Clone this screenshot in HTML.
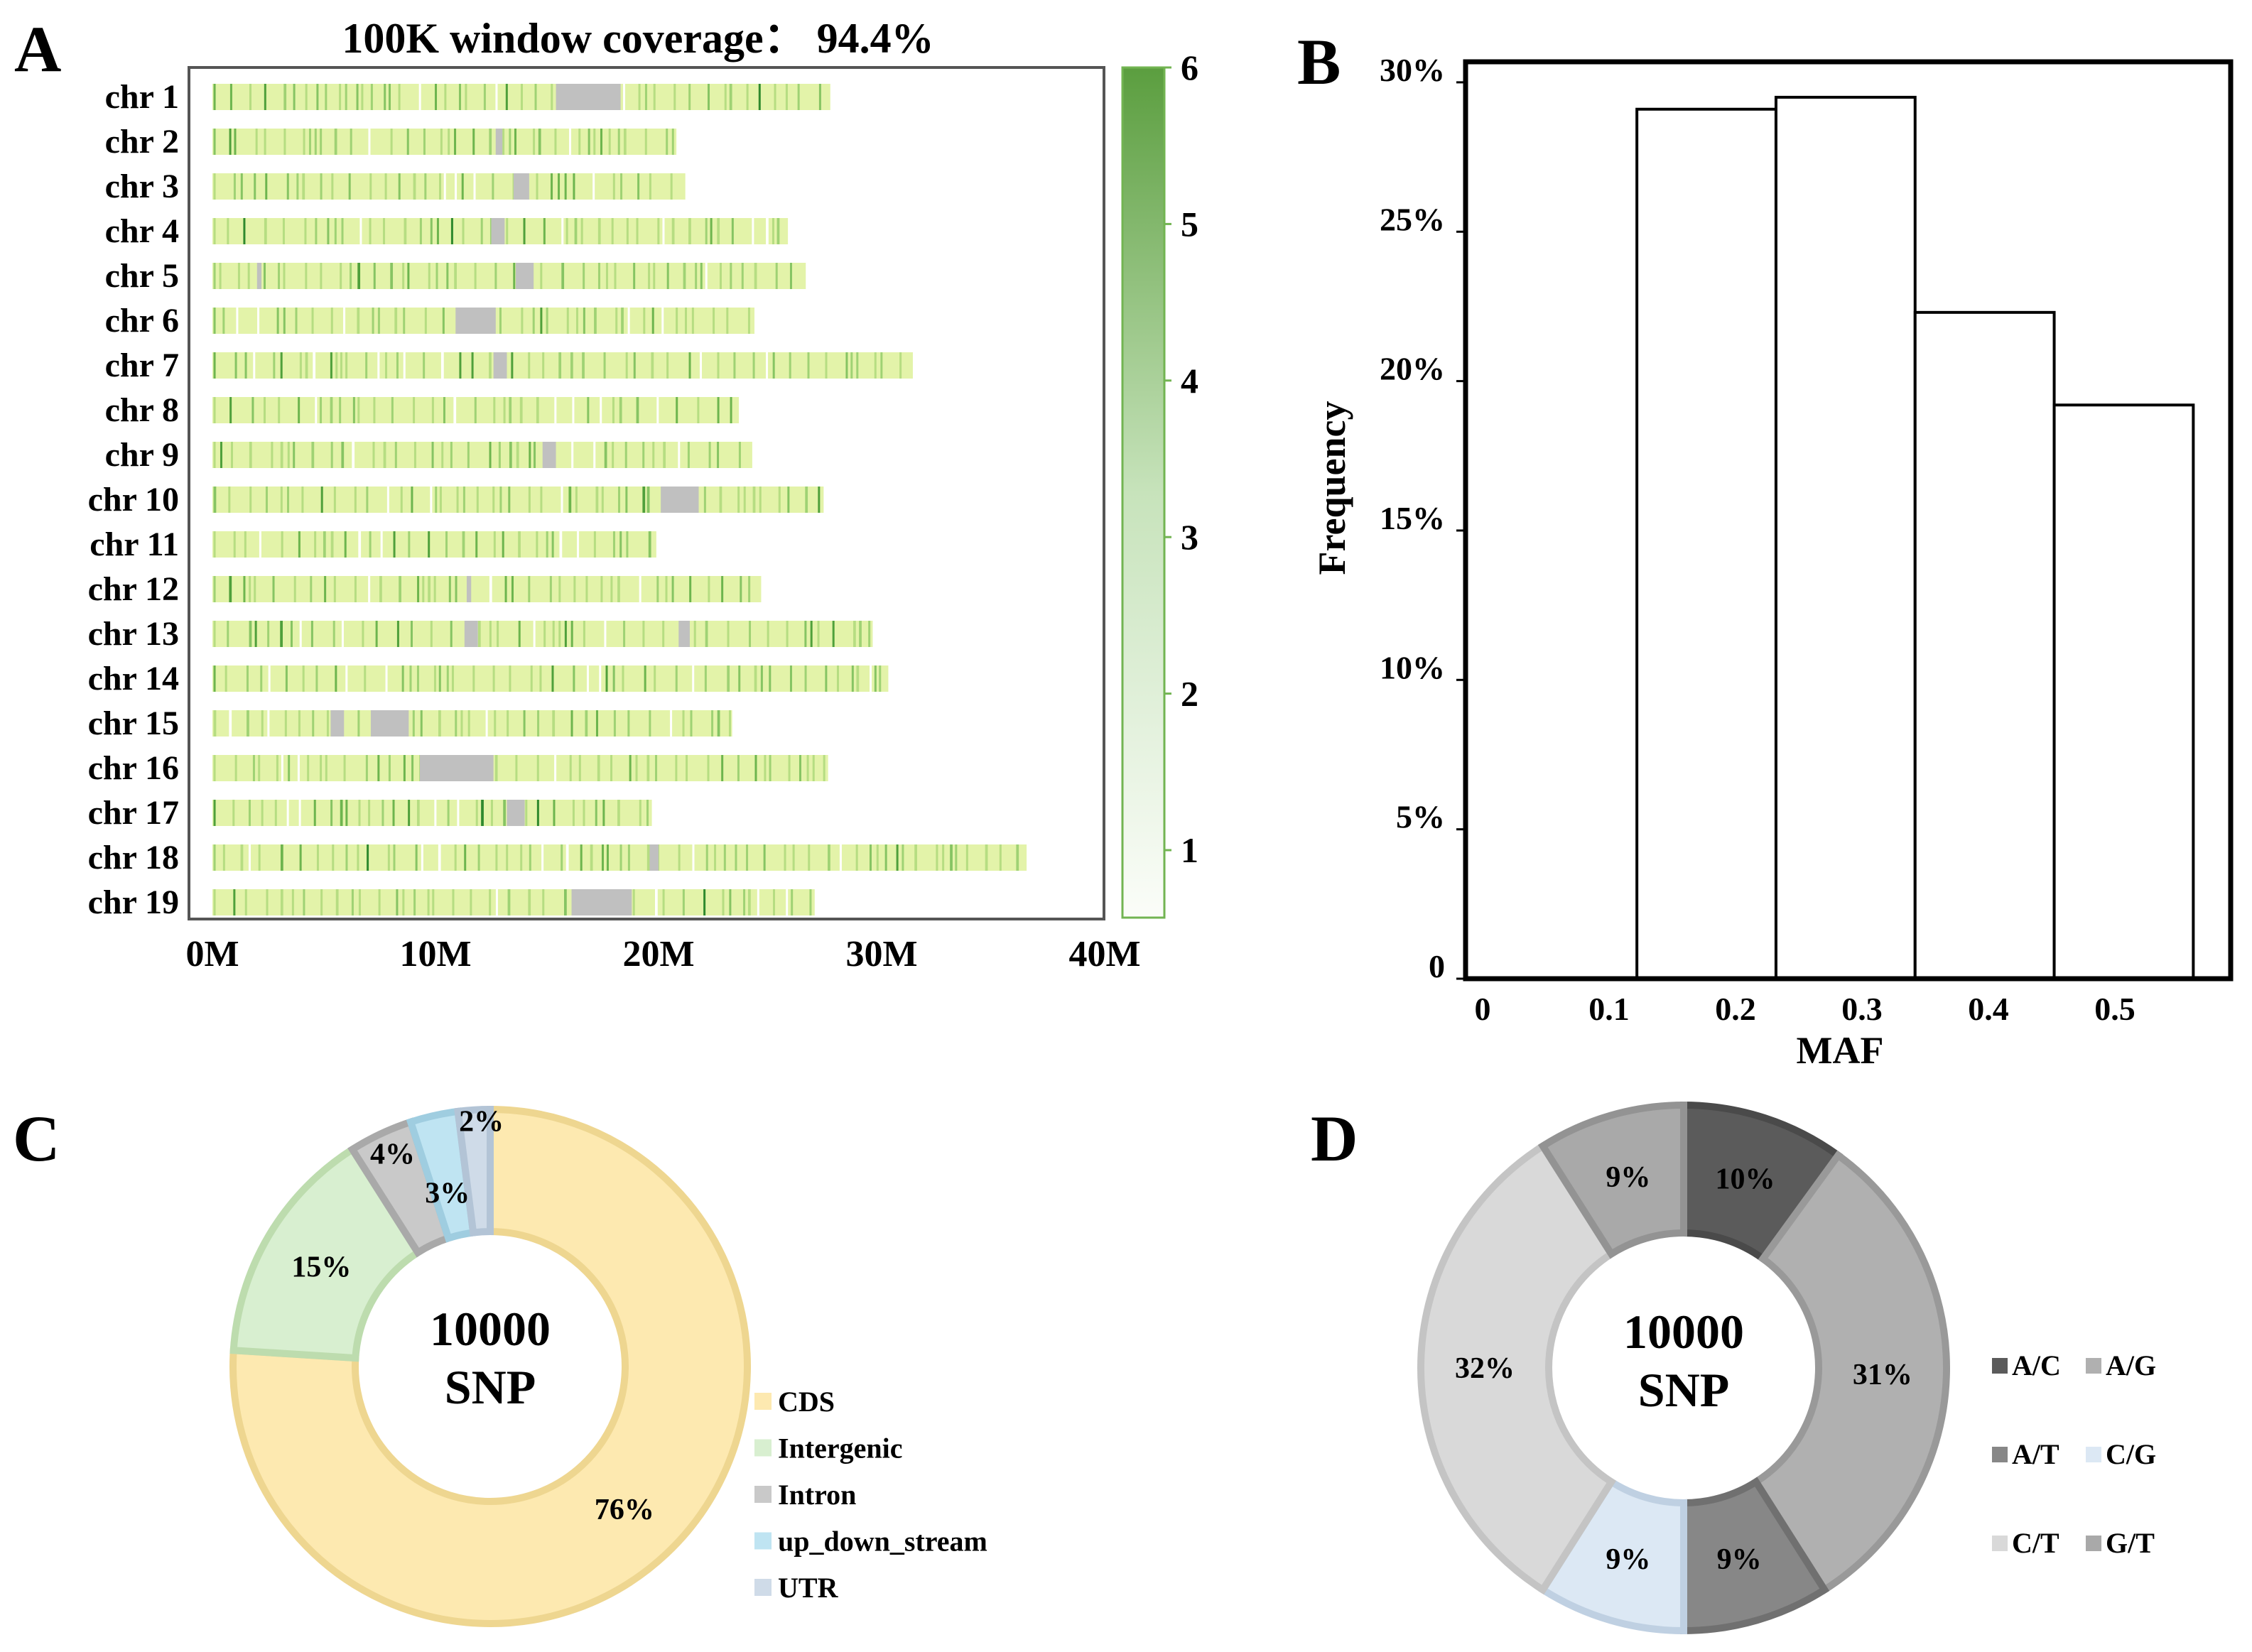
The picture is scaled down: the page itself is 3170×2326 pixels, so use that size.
<!DOCTYPE html>
<html><head><meta charset="utf-8"><style>
html,body{margin:0;padding:0;background:#fff}
svg{display:block;font-family:"Liberation Serif",serif;font-weight:bold}
</style></head><body>
<svg id="fig" xmlns="http://www.w3.org/2000/svg" width="3170" height="2326" viewBox="0 0 3170 2326">
<rect x="0" y="0" width="3170" height="2326" fill="#fff"/>
<g id="pA"></g>
<g id="pB"></g>
<g id="pC"></g>
<g id="pD"></g>
</svg>
<script>
// ---------- Panel A data ----------
const chrNames = ["chr 1","chr 2","chr 3","chr 4","chr 5","chr 6","chr 7","chr 8","chr 9","chr 10","chr 11","chr 12","chr 13","chr 14","chr 15","chr 16","chr 17","chr 18","chr 19"];
const chrLengths = [27.7,20.8,21.2,25.8,26.6,24.3,31.4,23.6,24.2,27.4,19.9,24.6,29.6,30.3,23.3,27.6,19.7,36.5,27.0];
const gapStarts = [[15.4],[12.7,13.3],[13.5],[12.5],[2.0,13.6],[10.9],[12.6],[],[14.8],[20.1],[],[11.4],[11.3,20.9],[],[5.3,7.1],[9.3],[13.2],[19.6],[16.1]];
const gapEnds   = [[18.3],[13.0],[14.2],[13.1],[2.2,14.4],[12.7],[13.2],[],[15.4],[21.8],[],[11.6],[11.9,21.4],[],[5.9,8.8],[12.6],[14.0],[20.0],[18.8]];
const xTicksA = [0,10,20,30,40];
const cbTicks = [1,2,3,4,5,6];
// ---------- Panel B data ----------
const mafBinStart = [0.122,0.232,0.342,0.452];
const mafBinWidth = 0.11;
const mafFreq = [29.1,29.5,22.3,19.2];
const yTicksB = [0,5,10,15,20,25,30];
const xTicksB = [0,0.1,0.2,0.3,0.4,0.5];
// ---------- Panel C data ----------
const annoCats = ["CDS","Intergenic","Intron","up_down_stream","UTR"];
const annoVals = [76,15,4,3,2];
// ---------- Panel D data ----------
const subCats = ["A/C","A/G","A/T","C/G","C/T","G/T"];
const subVals = [10,31,9,9,32,9];

const NS="http://www.w3.org/2000/svg";
function el(tag,attrs,parent){const e=document.createElementNS(NS,tag);for(const k in attrs)e.setAttribute(k,attrs[k]);parent.appendChild(e);return e;}
function txt(s,attrs,parent){const e=el("text",attrs,parent);e.textContent=s;return e;}

// ===== Panel A =====
const pA=document.getElementById("pA");
const xA=m=>299+m*31.4;
const rowY=i=>136+i*63;
let t=txt("A",{x:20,y:100,"font-size":92},pA);


t=txt("100K window coverage\uFF1A 94.4%",{x:898,y:74,"font-size":60,"text-anchor":"middle"},pA);


let fr=el("rect",{x:266,y:95,width:1288,height:1199,fill:"none",stroke:"#555","stroke-width":4},pA);


// deterministic texture generator for the density stripes (decorative)
let seed=12345;function rnd(){seed=(seed*1103515245+12345)%2147483648;return seed/2147483648;}
const greens=["#b6dd82","#9fd274","#86c463","#6db54e","#4fa03b","#2f8a2e"];
chrNames.forEach((n,i)=>{
  const y=rowY(i);
  const lab=txt(n,{x:252,y:y+16,"font-size":48,"text-anchor":"end"},pA);
  
  
  const g=el("g",{},pA);
  
  
  el("rect",{x:xA(0),y:y-18,width:xA(chrLengths[i])-xA(0),height:37,fill:"#e3f3a9"},g);
  let m=0.05;
  while(m<chrLengths[i]-0.1){
    const w=0.1+ (rnd()<0.15?0.1:0);
    const r=rnd();
    const c=r<0.08?"#ffffff":greens[Math.floor(rnd()*rnd()*greens.length)];
    el("rect",{x:xA(m),y:y-18,width:Math.max(3,w*31.4*0.6),height:37,fill:c},g);
    m+=0.2+rnd()*0.8;
  }
  gapStarts[i].forEach((s,k)=>{
    const gp=el("rect",{x:xA(s),y:y-18,width:xA(gapEnds[i][k])-xA(s),height:37,fill:"#c0c0c0"},g);
    
    
  });
});
xTicksA.forEach(v=>{
  const tk=txt(v+"M",{x:xA(v),y:1360,"font-size":52,"text-anchor":"middle"},pA);
  
  
});
// colorbar
const defs=el("defs",{},document.getElementById("fig"));
const lg=el("linearGradient",{id:"cbg",x1:0,y1:1,x2:0,y2:0},defs);
el("stop",{offset:"0","stop-color":"#fbfdf9"},lg);
el("stop",{offset:"0.5","stop-color":"#c7e3bb"},lg);
el("stop",{offset:"1","stop-color":"#5b9e3f"},lg);
const cb=el("rect",{x:1580,y:95,width:59,height:1197,fill:"url(#cbg)",stroke:"#72b452","stroke-width":3},pA);


const cbY=v=>1197-(v-1)*220.4;
cbTicks.forEach(v=>{
  el("line",{x1:1639,x2:1649,y1:cbY(v),y2:cbY(v),stroke:"#72b452","stroke-width":3},pA);
  const l=txt(String(v),{x:1662,y:cbY(v)+17,"font-size":50},pA);
  
  
});

// ===== Panel B =====
const pB=document.getElementById("pB");
const yB=p=>1378-p*42.07;
const xB=v=>2087+v*1780;
t=txt("B",{x:1826,y:118,"font-size":92},pB);


mafFreq.forEach((f,i)=>{
  const b=el("rect",{x:xB(mafBinStart[i]),y:yB(f),width:xB(mafBinStart[i]+mafBinWidth)-xB(mafBinStart[i]),height:yB(0)-yB(f),fill:"#fff",stroke:"#000","stroke-width":4},pB);
  
  
});
fr=el("rect",{x:2063,y:87,width:1077,height:1291,fill:"none",stroke:"#000","stroke-width":7},pB);


yTicksB.forEach(v=>{
  el("line",{x1:2050,x2:2063,y1:yB(v),y2:yB(v),stroke:"#000","stroke-width":3},pB);
  const l=txt(v===0?"0":v+"%",{x:2034,y:yB(v)-2,"font-size":46,"text-anchor":"end"},pB);
  
  
});
xTicksB.forEach(v=>{
  const l=txt(String(v),{x:xB(v),y:1436,"font-size":46,"text-anchor":"middle"},pB);
  
  
});
t=txt("MAF",{x:2590,y:1497,"font-size":54,"text-anchor":"middle"},pB);


t=txt("Frequency",{x:0,y:0,"font-size":54,"text-anchor":"middle",transform:"translate(1893,687) rotate(-90)"},pB);



// ===== Donut helper =====
function donut(parent,cx,cy,R,r,vals,fills,strokes,name){
  const tot=vals.reduce((a,b)=>a+b,0);let acc=0;const out=[];
  vals.forEach((v,i)=>{
    const a0=acc/tot*2*Math.PI,a1=(acc+v)/tot*2*Math.PI;acc+=v;
    const P=(rad,a)=>[cx+rad*Math.sin(a),cy-rad*Math.cos(a)];
    const big=(a1-a0)>Math.PI?1:0;
    const [x0,y0]=P(R,a0),[x1,y1]=P(R,a1),[x2,y2]=P(r,a1),[x3,y3]=P(r,a0);
    const d=`M${x0},${y0}A${R},${R} 0 ${big} 1 ${x1},${y1}L${x2},${y2}A${r},${r} 0 ${big} 0 ${x3},${y3}Z`;
    const p=el("path",{d:d,fill:fills[i],stroke:strokes[i],"stroke-width":10,"stroke-linejoin":"miter"},parent);
    
    
    const am=(a0+a1)/2;out.push(P((R+r)/2,am));
  });
  return out;
}

// ===== Panel C =====
const pC=document.getElementById("pC");
t=txt("C",{x:18,y:1634,"font-size":92},pC);


const cFill=["#fde9b0","#d8efd0","#c9c9c9","#bfe4f2","#cfdbe8"];
const cStroke=["#eed690","#bddcae","#a9a9a9","#9fcde0","#b3c4d6"];
const cPos=donut(pC,690,1924,362,190,annoVals,cFill,cStroke,"annotation-slice");
annoVals.forEach((v,i)=>{
  let [x,y]=cPos[i];
  if(i===4){y-=70;x+=5;} if(i===3){y+=25;} if(i===2){x-=20;y-=50;}
  const l=txt(v+"%",{x:x,y:y+14,"font-size":42,"text-anchor":"middle"},pC);
  
  
});
t=txt("10000",{x:690,y:1894,"font-size":68,"text-anchor":"middle"},pC);


t=txt("SNP",{x:690,y:1976,"font-size":68,"text-anchor":"middle"},pC);


annoCats.forEach((c,i)=>{
  const y=1975+i*65.5;
  const g=el("g",{},pC);
  
  
  el("rect",{x:1062,y:y-14,width:24,height:24,fill:cFill[i]},g);
  txt(c,{x:1095,y:y+12,"font-size":40},g);
});

// ===== Panel D =====
const pD=document.getElementById("pD");
t=txt("D",{x:1845,y:1634,"font-size":92},pD);


const dFill=["#5b5b5b","#b0b0b0","#878787","#dce8f4","#d9d9d9","#a9a9a9"];
const dStroke=["#4a4a4a","#999","#707070","#bfd0e2","#c4c4c4","#939393"];
const dPos=donut(pD,2370,1926,370,190,subVals,dFill,dStroke,"substitution-slice");
subVals.forEach((v,i)=>{
  const [x,y]=dPos[i];
  const l=txt(v+"%",{x:x,y:y+14,"font-size":42,"text-anchor":"middle"},pD);
  
  
});
t=txt("10000",{x:2370,y:1898,"font-size":68,"text-anchor":"middle"},pD);


t=txt("SNP",{x:2370,y:1980,"font-size":68,"text-anchor":"middle"},pD);


subCats.forEach((c,i)=>{
  const row=Math.floor(i/2),col=i%2;
  const y=1924+row*125,x=col?2936:2804;
  const g=el("g",{},pD);
  
  
  el("rect",{x:x,y:y-12,width:22,height:22,fill:dFill[i]},g);
  txt(c,{x:x+28,y:y+12,"font-size":40},g);
});
</script>
</body></html>
